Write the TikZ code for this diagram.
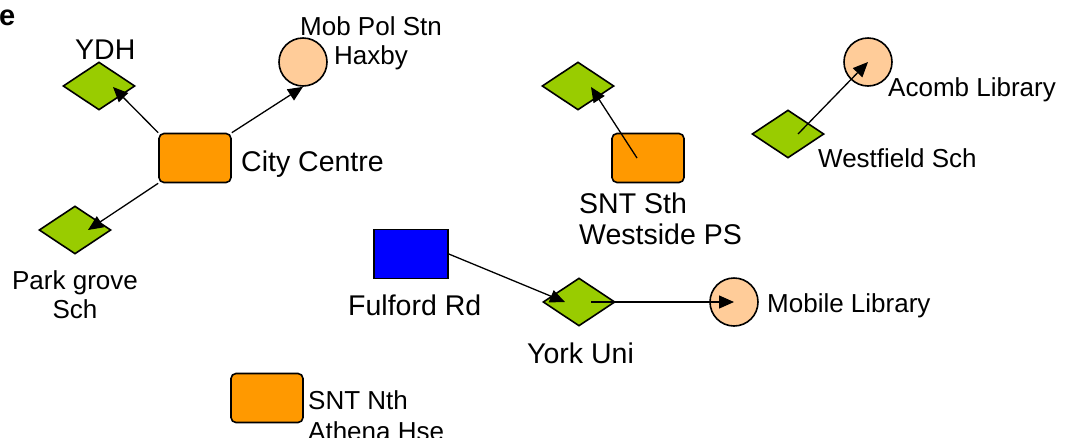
\documentclass[tikz,border=0pt]{standalone}
\usepackage{fontspec}
\setmainfont{Liberation Sans}
\usetikzlibrary{calc, positioning, arrows.meta, shapes.geometric}
\definecolor{schoolgreen}{HTML}{99CC00}
\definecolor{stationorange}{HTML}{FF9900}
\definecolor{librarypeach}{HTML}{FFCC99}
\definecolor{policeblue}{HTML}{0000FF}
\tikzset{
    site/.style={draw=black, line width=1.6pt, inner sep=0pt},
    school/.style={site, diamond, fill=schoolgreen, minimum width=72pt, minimum height=48pt},
    station/.style={site, rectangle, rounded corners=5pt, fill=stationorange, minimum width=72pt, minimum height=49pt},
    police/.style={site, rectangle, fill=policeblue, minimum width=74pt, minimum height=49pt},
    library/.style={site, circle, fill=librarypeach, minimum size=48pt},
    big text/.style={inner sep=0pt, font=\fontsize{28.5}{31}\selectfont},
    small text/.style={inner sep=0pt, font=\fontsize{26}{29}\selectfont},
    link/.style={line width=1.3pt, -{Triangle[length=15pt,width=13pt]}},
}

\begin{document}
\begin{tikzpicture}[x=1pt, y=-1pt]
\useasboundingbox (0,0) rectangle (1081,437);

% sites
\node[school] (ydh) at (99,86) {};
\node[library] (mobpol) at (303,62) {};
\node[station] (cc) at (195,158) {};
\node[school] (park) at (75,230) {};
\node[school] (snts sch) at (578,86) {};
\node[station] (snts) at (648,158) {};
\node[library] (acomb) at (868,62) {};
\node[school] (westfield) at (788,134) {};
\node[police] (fulford) at (411,254) {};
\node[school] (york) at (579,302) {};
\node[library] (mobile) at (734,302) {};
\node[station] (sntn) at (267,398) {};

% labels
\node[inner sep=0pt, anchor=base west, font=\bfseries\fontsize{29}{29}\selectfont] (panel) at (-1,25) {e};
\node[big text, anchor=base west] (ydh text) at (75,59) {YDH};
\node[small text, align=center, anchor=north] (mobpol text) at (371,16) {Mob Pol Stn\\Haxby};
\node[big text, anchor=base west] (cc text) at (241,171) {City Centre};
\node[small text, align=center, anchor=north] (park text) at (75,270) {Park grove\\Sch};
\node[big text, align=left, anchor=north west] (snts text) at (579,193) {SNT Sth\\Westside PS};
\node[small text, anchor=base west] (acomb text) at (888,96) {Acomb Library};
\node[small text, anchor=base west] (westfield text) at (818,167) {Westfield Sch};
\node[big text, anchor=base west] (fulford text) at (348,315) {Fulford Rd};
\node[big text, anchor=base west] (york text) at (527,363) {York Uni};
\node[small text, anchor=base west] (mobile text) at (767,312) {Mobile Library};
\node[small text, align=left, anchor=north west] (sntn text) at (308,390) {SNT Nth\\[2pt]Athena Hse};

% links
\draw[link] (cc.north west) -- ($(ydh)+(14,1)$);
\draw[link] (cc.north east) -- (mobpol.south);
\draw[link] (cc.south west) -- ($(park)+(13,0)$);
\draw[link] ($(snts)+(-11,0)$) -- ($(snts sch)+(13,1)$);
\draw[link] ($(westfield)+(10,0)$) -- (acomb.center);
\draw[link] (fulford.east) -- ($(york)+(-14,0)$);
\draw[link] ($(york)+(12,0)$) -- (mobile.center);

\end{tikzpicture}
\end{document}
